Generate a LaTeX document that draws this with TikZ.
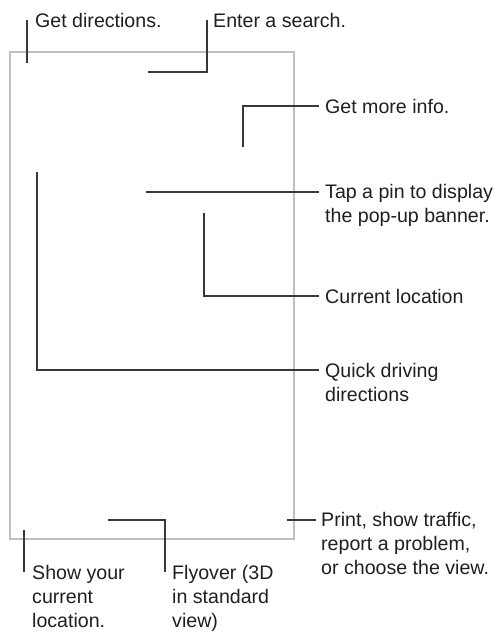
\documentclass[tikz,border=0pt]{standalone}
\usepackage{fontspec}
\setmainfont{Liberation Sans}
\begin{document}
\begin{tikzpicture}[x=1pt,y=-1pt,
  lbl/.style={inner sep=0pt, anchor=base west, align=left, text=black!88,
    font=\fontsize{19.6pt}{24.2pt}\selectfont},
  conn/.style={draw=black!78, line width=1.4pt},
  frame/.style={draw=black!25, line width=1.4pt}]
\useasboundingbox (0,0) rectangle (496,632);
\draw[frame] (10,52) rectangle (294,539);
% coordinates
\coordinate (dirA) at (27,20);
\coordinate (dirB) at (27,63);
\coordinate (srA) at (148,72);
\coordinate (srB) at (207,20);
\coordinate (infA) at (243,147);
\coordinate (infB) at (319,106);
\coordinate (tapA) at (146,192);
\coordinate (tapB) at (319,192);
\coordinate (curA) at (204,213);
\coordinate (curB) at (319,296);
\coordinate (qA) at (37,172);
\coordinate (qB) at (319,370);
\coordinate (prA) at (287,520);
\coordinate (prB) at (316,520);
\coordinate (shA) at (24,530);
\coordinate (shB) at (24,572);
\coordinate (flA) at (108,520);
\coordinate (flB) at (165,572);
% labels (base anchor = baseline of the last line)
\node[lbl] (dir) at (35,27) {Get directions.};
\node[lbl] (sr) at (213,27) {Enter a search.};
\node[lbl] (inf) at (325,113) {Get more info.};
\node[lbl] (tap) at (325,222.2) {Tap a pin to display\\the pop-up banner.};
\node[lbl] (cur) at (325,303) {Current location};
\node[lbl] (q) at (325,401.2) {Quick driving\\directions};
\node[lbl] (pr) at (321,574.4) {Print, show traffic,\\report a problem,\\or choose the view.};
\node[lbl] (sh) at (32,627.4) {Show your\\current\\location.};
\node[lbl] (fl) at (172,627.4) {Flyover (3D\\in standard\\view)};
% connectors
\draw[conn] (dirA) -- (dirB);
\draw[conn] (srA) -| (srB);
\draw[conn] (infA) |- (infB);
\draw[conn] (tapA) -- (tapB);
\draw[conn] (curA) |- (curB);
\draw[conn] (qA) |- (qB);
\draw[conn] (prA) -- (prB);
\draw[conn] (shA) -- (shB);
\draw[conn] (flA) -| (flB);
\end{tikzpicture}
\end{document}
